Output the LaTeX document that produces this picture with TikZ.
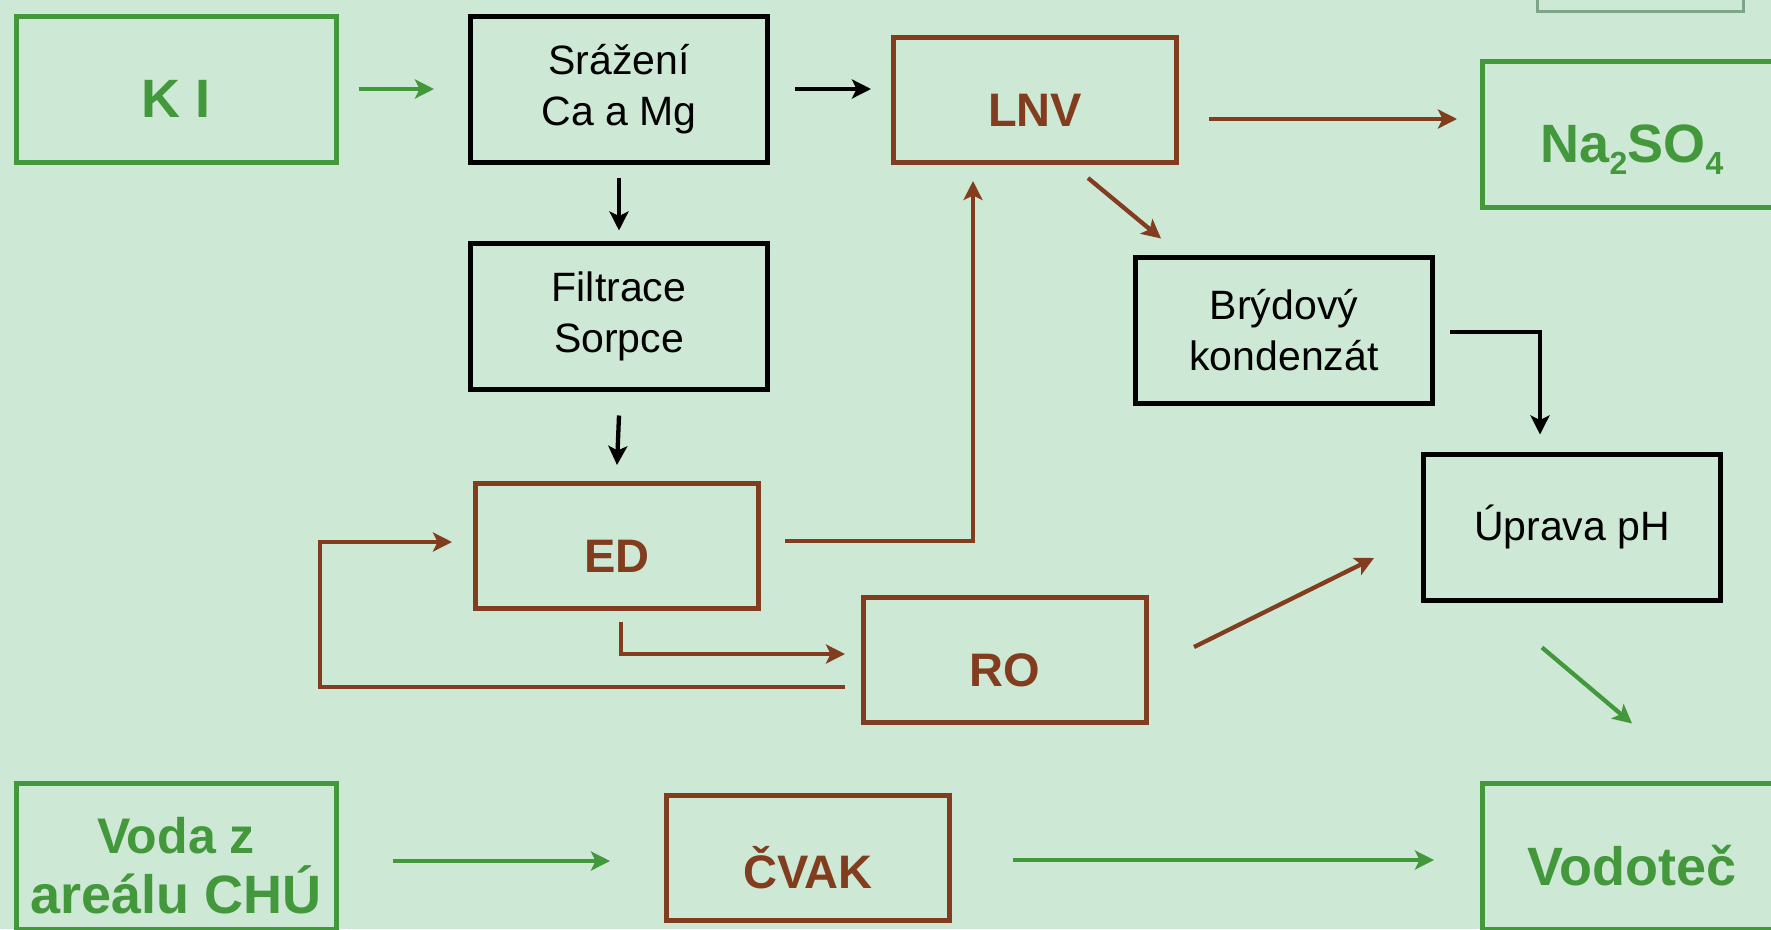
\documentclass[tikz,border=0pt]{standalone}
\usepackage{fontspec}
\setmainfont{Liberation Sans}
\usetikzlibrary{arrows.meta}

\definecolor{bgcol}{RGB}{206,232,214}
\definecolor{kgreen}{RGB}{67,152,60}
\definecolor{kbrown}{RGB}{130,60,30}
\definecolor{logoedge}{RGB}{125,165,135}

\newcommand\chemsub[1]{\smash{\raisebox{-12pt}{\fontsize{32}{32}\selectfont #1}}}

\tikzset{
  box/.style={draw, line width=5pt, align=center, inner sep=0pt,
    minimum height=146pt},
  gbox/.style={box, draw=kgreen, minimum width=299pt,
    label={[text=kgreen,align=center,yshift=-10pt,
      font=\fontsize{54}{60}\selectfont\bfseries]center:#1}},
  bbox/.style={box, draw=kbrown, minimum width=283pt, minimum height=125pt,
    label={[text=kbrown,align=center,yshift=-10pt,
      font=\fontsize{47}{54}\selectfont\bfseries]center:#1}},
  kbox/.style={box, draw=black, minimum width=297pt,
    font=\fontsize{41}{51}\selectfont},
  flow/.style={line width=4.3pt, -{Stealth[length=19pt,width=19pt,inset=4.5pt]}},
}

\begin{document}
\begin{tikzpicture}[x=1pt,y=-1pt]
    \useasboundingbox (0,0) rectangle (1771,929);
    \fill[bgcol] (0,0) rectangle (1771,929);
    \clip (0,0) rectangle (1771,929);
    \draw[logoedge,line width=3pt] (1537,-20) rectangle (1743,11);

    % upper row
    \node[gbox={K I},minimum width=320pt] (ki) at (176,89) {};
    \node[kbox] (sraz) at (619,89) {Srážení\\Ca a Mg};
    \node[bbox={LNV}] (lnv) at (1035,100) {};
    \node[gbox={Na\chemsub{2}SO\chemsub{4}}] (na) at (1632,134) {};

    \node[kbox] (filt) at (619,316) {Filtrace\\Sorpce};
    \node[kbox] (bry) at (1284,330) {Brýdový\\kondenzát};
    \node[kbox] (up) at (1572,527) {Úprava pH};

    \node[bbox={ED}] (ed) at (617,546) {};
    \node[bbox={RO}] (ro) at (1005,660) {};

    % lower row
    \node[gbox={\fontsize{50}{60}\selectfont Voda z\\areálu CHÚ},minimum width=320pt]
        (voda) at (176,856) {};
    \node[bbox={ČVAK}] (cvak) at (808,858) {};
    \node[gbox={Vodoteč}] (vod) at (1632,856) {};

    % connectors
    \draw[flow,kgreen] ([xshift=20pt]ki.east) -- ([xshift=-34pt]sraz.west);
    \draw[flow] ([xshift=25pt]sraz.east) -- ([xshift=-20pt]sraz.east -| lnv.west);
    \draw[flow] ([yshift=-13pt]sraz.south) -- ([yshift=10pt]filt.north);
    \draw[flow] ([yshift=-24pt]filt.south) -- ([yshift=16pt]ed.north);
    \draw[flow,kbrown] ([xshift=30pt,yshift=-19pt]lnv.east)
        -- ([xshift=-23pt,yshift=-19pt]lnv.east -| na.west);
    \draw[flow,kbrown] ([xshift=53pt,yshift=-13pt]lnv.south)
        -- ([xshift=-123pt,yshift=16pt]bry.north);
    \draw[flow,kbrown] ([xshift=24pt,yshift=5pt]ed.east)
        -| ([xshift=-62pt,yshift=-16pt]lnv.south);
    \draw[flow,kbrown] ([xshift=4pt,yshift=-11pt]ed.south)
        |- ([xshift=-16pt,yshift=6pt]ro.west);
    \draw[flow,kbrown] ([xshift=-16pt,yshift=-27pt]ro.west)
        -| ([xshift=-153pt,yshift=4pt]ed.west)
        -- ([xshift=-21pt,yshift=4pt]ed.west);
    \draw[flow,kbrown] ([xshift=45pt,yshift=13pt]ro.east)
        -- ([xshift=-47pt,yshift=-31pt]up.west);
    \draw[flow] ([xshift=15pt,yshift=-2pt]bry.east)
        -| ([xshift=-32pt,yshift=17pt]up.north);
    \draw[flow,kgreen] ([xshift=-30pt,yshift=-45pt]up.south)
        -- ([yshift=57pt]vod.north);
    \draw[flow,kgreen] ([xshift=54pt,yshift=-5pt]voda.east)
        -- ([xshift=-54pt,yshift=-5pt]voda.east -| cvak.west);
    \draw[flow,kgreen] ([xshift=61pt,yshift=-2pt]cvak.east)
        -- ([xshift=-46pt,yshift=-2pt]cvak.east -| vod.west);
\end{tikzpicture}
\end{document}
